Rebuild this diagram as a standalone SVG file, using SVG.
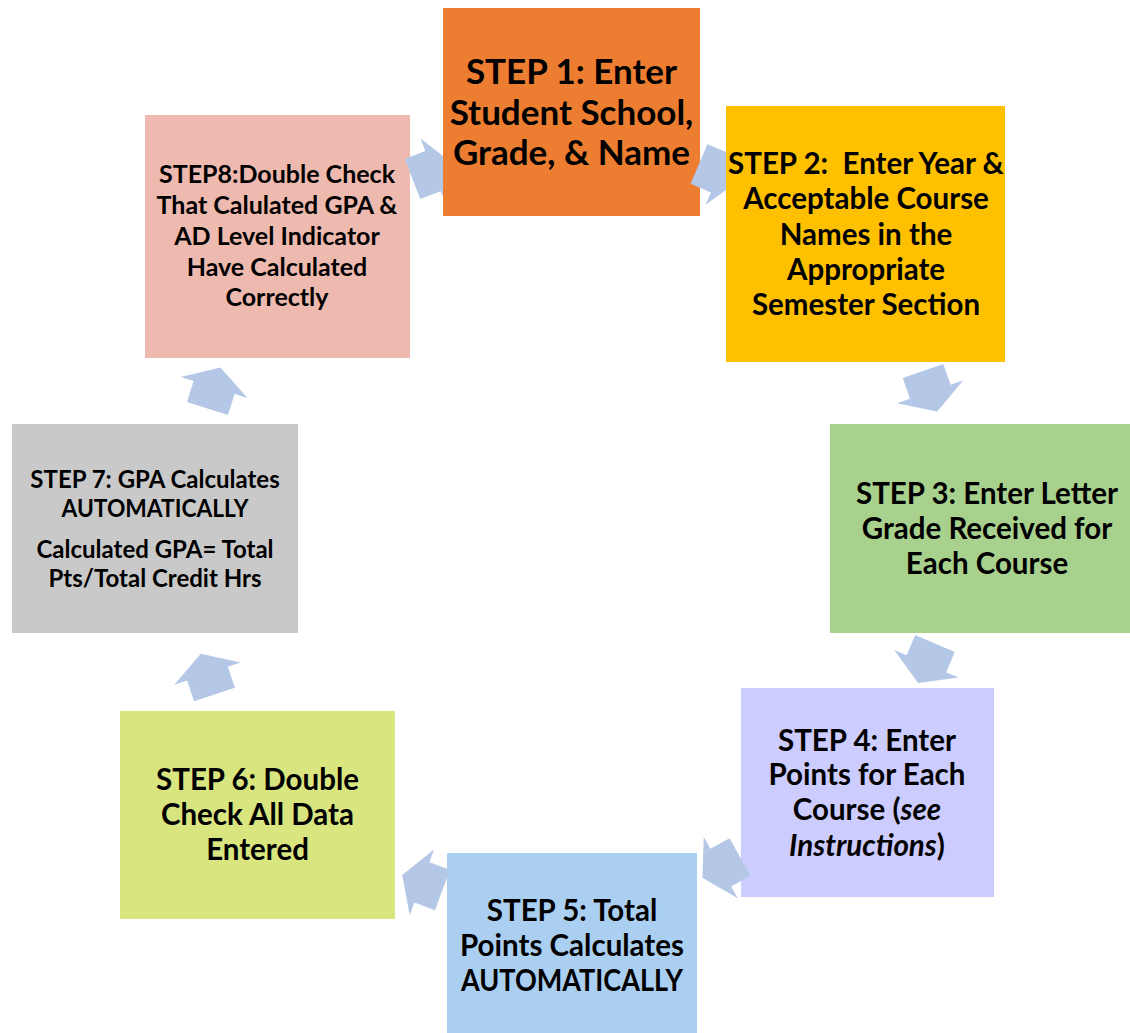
<svg xmlns="http://www.w3.org/2000/svg" xmlns:xlink="http://www.w3.org/1999/xlink" width="1130" height="1033" viewBox="0 0 1130 1033">
<style>
.t{font-family:Lato,"Liberation Sans","DejaVu Sans",sans-serif;font-weight:bold;fill:#000;text-anchor:middle}
.s37{font-size:35px}.s31{font-size:29.5px}.s28{font-size:25px}.s26{font-size:24px}
.arr{fill:#B4C7E7}
.i{font-style:italic}
</style>
<defs>
<polygon id="arrow" points="0,-21.5 22,-21.5 22,-35 43,0 22,35 22,21.5 0,21.5"/>
<clipPath id="c81" clipPathUnits="userSpaceOnUse"><rect x="0" y="0" width="443" height="1033"/></clipPath>
<clipPath id="c12" clipPathUnits="userSpaceOnUse"><rect x="0" y="0" width="726" height="1033"/></clipPath>
</defs>
<rect width="1130" height="1033" fill="#fff"/>
<g id="step1">
<rect x="443" y="8" width="257" height="208" fill="#ED7D31"/>
<text class="t s37"><tspan x="571.5" y="84">STEP 1: Enter</tspan><tspan x="571.5" y="124.5">Student School,</tspan><tspan x="571.5" y="165">Grade, &amp; Name</tspan></text>
</g>
<g id="step2">
<rect x="726" y="106" width="279" height="256" fill="#FFC000"/>
<text class="t s31" xml:space="preserve"><tspan x="866" y="173.5">STEP 2:  Enter Year &amp;</tspan><tspan x="866" y="208.5">Acceptable Course</tspan><tspan x="866" y="244.5">Names in the</tspan><tspan x="866" y="279.5">Appropriate</tspan><tspan x="866" y="314.5">Semester Section</tspan></text>
</g>
<g id="step3">
<rect x="830" y="424" width="300" height="209" fill="#A9D18E"/>
<text class="t s31"><tspan x="987" y="503.5">STEP 3: Enter Letter</tspan><tspan x="987" y="538.5">Grade Received for</tspan><tspan x="987" y="573.5">Each Course</tspan></text>
</g>
<g id="step4">
<rect x="741" y="688" width="253" height="209" fill="#CCCCFF"/>
<text class="t s31"><tspan x="867" y="750.5">STEP 4: Enter</tspan><tspan x="867" y="784.5">Points for Each</tspan><tspan x="867" y="819.5">Course (<tspan class="i">see</tspan></tspan><tspan x="867" y="855.5"><tspan class="i">Instructions</tspan>)</tspan></text>
</g>
<g id="step5">
<rect x="447" y="853" width="250" height="180" fill="#ABCFF1"/>
<text class="t s31"><tspan x="572" y="920.5">STEP 5: Total</tspan><tspan x="572" y="955.5">Points Calculates</tspan></text>
<text class="t s31" x="572" y="990.5" textLength="222" lengthAdjust="spacingAndGlyphs">AUTOMATICALLY</text>
</g>
<g id="step6">
<rect x="120" y="711" width="275" height="208" fill="#D9E67F"/>
<text class="t s31"><tspan x="257.5" y="789.5">STEP 6: Double</tspan><tspan x="257.5" y="824.5">Check All Data</tspan><tspan x="257.5" y="859.5">Entered</tspan></text>
</g>
<g id="step7">
<rect x="12" y="424" width="286" height="209" fill="#C9C9C9"/>
<text class="t s26"><tspan x="155" y="488">STEP 7: GPA Calculates</tspan></text>
<text class="t s26" x="155" y="517" textLength="187" lengthAdjust="spacingAndGlyphs">AUTOMATICALLY</text>
<text class="t s26"><tspan x="155" y="558">Calculated GPA= Total</tspan><tspan x="155" y="587">Pts/Total Credit Hrs</tspan></text>
</g>
<g id="step8">
<rect x="145" y="115" width="265" height="243" fill="#EEB9AE"/>
<text class="t s28"><tspan x="277" y="183">STEP8:Double Check</tspan><tspan x="277" y="214">That Calulated GPA &amp;</tspan><tspan x="277" y="245">AD Level Indicator</tspan><tspan x="277" y="276">Have Calculated</tspan><tspan x="277" y="306">Correctly</tspan></text>
</g>
<g id="connectors" class="arr">
<g clip-path="url(#c81)"><use xlink:href="#arrow" href="#arrow" transform="translate(412.5,179) rotate(-21)"/></g>
<g clip-path="url(#c12)"><use xlink:href="#arrow" href="#arrow" transform="translate(699,164) rotate(23)"/></g>
<use xlink:href="#arrow" href="#arrow" transform="translate(923,371) rotate(70.7)"/>
<use xlink:href="#arrow" href="#arrow" transform="translate(935,643.5) rotate(113)"/>
<use xlink:href="#arrow" href="#arrow" transform="translate(740,857) rotate(151)"/>
<use xlink:href="#arrow" href="#arrow" transform="translate(442.5,890) rotate(200.4)"/>
<use xlink:href="#arrow" href="#arrow" transform="translate(214.5,694.5) rotate(-108.6)"/>
<use xlink:href="#arrow" href="#arrow" transform="translate(207.5,408.5) rotate(-72.5)"/>
</g>
</svg>
